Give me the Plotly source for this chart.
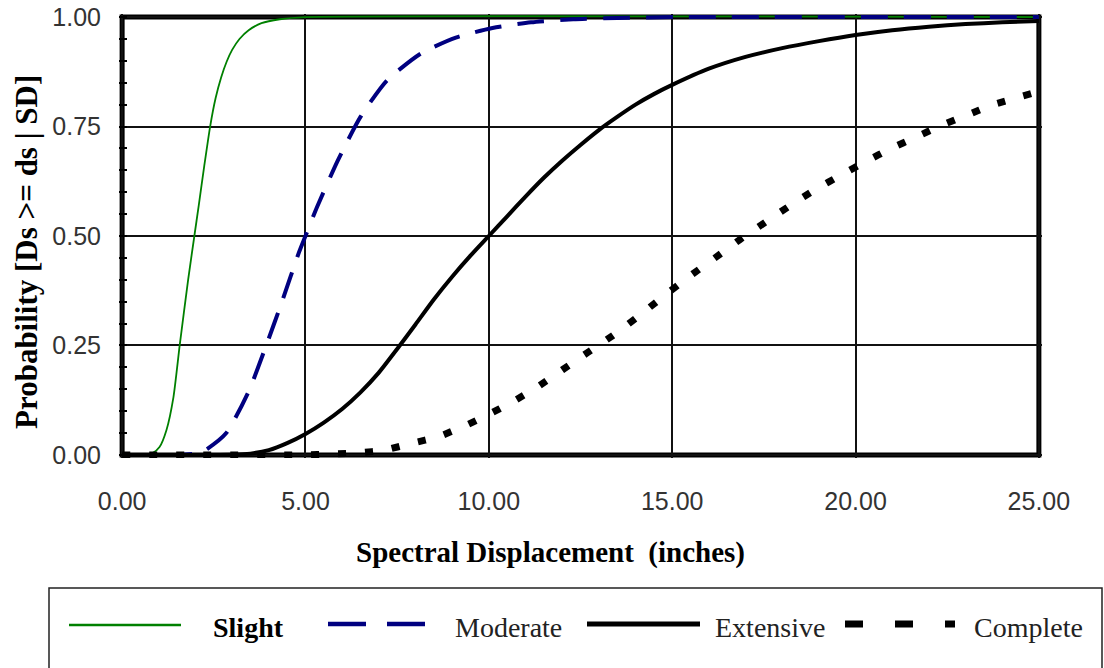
import plotly.graph_objects as go

# Fragility curves: probability of reaching or exceeding each damage state
sd_slight = [0, 0.5, 0.84, 1.02, 1.21, 1.40, 1.57, 1.80, 1.97, 2.09, 2.24, 2.40,
             2.55, 2.70, 2.85, 3.0, 3.2, 3.45, 3.8, 4.3, 5.0, 25.0]
p_slight = [0, 0, 0.005, 0.018, 0.057, 0.132, 0.25, 0.40, 0.50, 0.57, 0.66, 0.75,
            0.815, 0.862, 0.898, 0.925, 0.95, 0.97, 0.986, 0.995, 1.0, 1.0]

sd_moderate = [0, 1.5, 2.0, 2.25, 2.84, 3.45, 3.93, 4.38, 4.82, 5.0, 5.31, 5.88,
               6.5, 7.22, 8.15, 9.1, 10.1, 11.15, 12.3, 13.5, 15.0, 25.0]
p_moderate = [0, 0, 0.003, 0.01, 0.05, 0.145, 0.25, 0.355, 0.462, 0.50, 0.565, 0.672,
              0.772, 0.855, 0.917, 0.953, 0.975, 0.988, 0.995, 0.998, 1.0, 1.0]

sd_extensive = [0, 3.0, 3.5, 4.0, 4.5, 5.0, 5.5, 6.0, 6.5, 7.0, 7.5, 8.0, 8.5, 9.0,
                9.5, 10.0, 10.5, 11.0, 11.5, 12.0, 12.5, 13.0, 13.5, 14.0, 14.5,
                15.0, 16.0, 17.0, 18.0, 19.0, 20.0, 21.0, 22.0, 23.0, 24.0, 25.0]
p_extensive = [0, 0.0005, 0.003, 0.011, 0.027, 0.048, 0.074, 0.105, 0.143, 0.188, 0.242,
               0.298, 0.355, 0.407, 0.455, 0.50, 0.545, 0.59, 0.633, 0.672, 0.708,
               0.742, 0.772, 0.80, 0.824, 0.845, 0.882, 0.909, 0.929, 0.945, 0.959,
               0.97, 0.978, 0.984, 0.988, 0.991]

sd_complete = [0, 5.0, 5.74, 6.47, 7.15, 7.92, 8.6, 9.28, 9.96, 10.64, 11.32, 12.0,
               12.68, 13.37, 14.02, 14.7, 15.41, 16.2, 16.9, 17.55, 18.24, 18.92,
               19.6, 20.3, 20.97, 21.65, 22.3, 23.04, 23.72, 24.45, 25.0]
p_complete = [0, 0, 0.002, 0.005, 0.011, 0.027, 0.041, 0.064, 0.091, 0.121, 0.155, 0.194,
              0.233, 0.272, 0.313, 0.358, 0.404, 0.452, 0.495, 0.532, 0.571, 0.607,
              0.639, 0.671, 0.70, 0.726, 0.751, 0.776, 0.799, 0.817, 0.83]

x_ticks = [0, 5, 10, 15, 20, 25]
y_ticks = [0, 0.25, 0.5, 0.75, 1.0]
legend_names = ["Slight", "Moderate", "Extensive", "Complete"]

GREEN = "#008000"
NAVY = "#000080"
BLACK = "#000000"
SERIF = "Liberation Serif, Times New Roman, serif"
SANS = "Liberation Sans, Arial, sans-serif"

# page geometry (pixels)
W, H = 1104, 668
ML, MR, MT, MB = 119, 62, 14, 210
PW, PH = W - ML - MR, H - MT - MB


def xp(px):
    return (px - ML) / PW


def yp(py):
    return 1 - (py - MT) / PH


fig = go.Figure()

series = [
    (sd_slight, p_slight, dict(color=GREEN, width=1.8)),
    (sd_moderate, p_moderate, dict(color=NAVY, width=4, dash="27px,16px")),
    (sd_extensive, p_extensive, dict(color=BLACK, width=4)),
    (sd_complete, p_complete, dict(color=BLACK, width=7, dash="8px,19px")),
]
for name, (xs, ys, line) in zip(legend_names, series):
    fig.add_trace(go.Scatter(
        x=xs, y=ys, mode="lines", name=name,
        line=dict(shape="spline", smoothing=0.6, **line),
        showlegend=False, hoverinfo="skip",
    ))

shapes = [
    # heavy frame around the plotting area
    dict(type="rect", xref="x", yref="y", x0=0, x1=25, y0=0, y1=1,
         line=dict(color=BLACK, width=5), layer="below"),
    # legend box
    dict(type="rect", xref="paper", yref="paper",
         x0=xp(49), x1=xp(1102), y0=yp(720), y1=yp(588),
         line=dict(color="#222222", width=1.5)),
    # legend samples
    dict(type="line", xref="paper", yref="paper", x0=xp(69), x1=xp(181),
         y0=yp(625), y1=yp(625), line=dict(color=GREEN, width=2.5)),
    dict(type="line", xref="paper", yref="paper", x0=xp(328), x1=xp(426),
         y0=yp(624), y1=yp(624), line=dict(color=NAVY, width=4.5, dash="38px,21px")),
    dict(type="line", xref="paper", yref="paper", x0=xp(587), x1=xp(700),
         y0=yp(624), y1=yp(624), line=dict(color=BLACK, width=5)),
    dict(type="line", xref="paper", yref="paper", x0=xp(845), x1=xp(955),
         y0=yp(624), y1=yp(624), line=dict(color=BLACK, width=7, dash="18px,32px")),
]

annotations = [
    dict(text="Spectral Displacement  (inches)", xref="paper", yref="paper",
         x=xp(550), y=yp(552), xanchor="center", yanchor="middle", showarrow=False,
         font=dict(family=SERIF, size=29, color=BLACK, weight="bold")),
    dict(text="Probability [Ds >= ds | SD]", xref="paper", yref="paper",
         x=xp(27), y=yp(252), xanchor="center", yanchor="middle", showarrow=False,
         textangle=-90, font=dict(family=SERIF, size=31, color=BLACK, weight="bold")),
]
legend_x = [211, 453, 713, 972]
for i, (name, lx) in enumerate(zip(legend_names, legend_x)):
    annotations.append(dict(
        text=name, xref="paper", yref="paper", x=xp(lx), y=yp(627),
        xanchor="left", yanchor="middle", showarrow=False,
        font=dict(family=SERIF, size=28, color=BLACK if i == 0 else "#222222",
                  weight="bold" if i == 0 else "normal"),
    ))

fig.update_layout(
    width=W, height=H,
    margin=dict(l=ML, r=MR, t=MT, b=MB, pad=0, autoexpand=False),
    paper_bgcolor="white", plot_bgcolor="white",
    shapes=shapes, annotations=annotations,
    showlegend=False,
)
fig.update_xaxes(
    range=[-0.085, 25.085], tickvals=x_ticks, tickformat=".2f", automargin=False,
    showgrid=True, gridcolor="#111111", gridwidth=1.6, zeroline=False,
    showline=False, ticks="", ticklabelstandoff=26,
    tickfont=dict(family=SANS, size=25, color="#333333"),
)
fig.update_yaxes(
    range=[-0.007, 1.007], tickvals=y_ticks, tickformat=".2f", automargin=False,
    showgrid=True, gridcolor="#111111", gridwidth=1.6, zeroline=False,
    showline=False, ticks="", ticklabelstandoff=17,
    tickfont=dict(family=SANS, size=25, color="#333333"),
    minor=dict(ticks="inside", ticklen=8, tickwidth=1.5, tickcolor=BLACK,
               tickmode="linear", tick0=0, dtick=0.05, showgrid=False),
)

fig.write_html("out.html")
